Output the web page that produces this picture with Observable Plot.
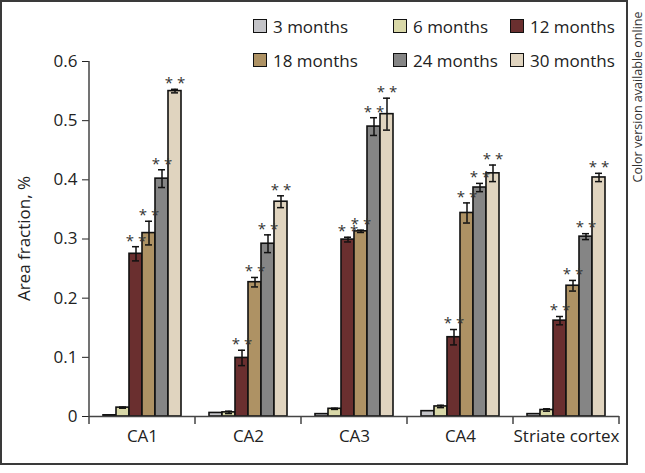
<!DOCTYPE html>
<html><head><meta charset="utf-8">
<script src="https://cdn.jsdelivr.net/npm/d3@7"></script>
<script src="https://cdn.jsdelivr.net/npm/@observablehq/plot@0.6"></script>
<style>
body{margin:0;background:#fff;font-family:"Open Sans",sans-serif;}
#wrap{position:relative;width:645px;height:473px;overflow:hidden;background:#fff;}
#border{position:absolute;left:0;top:0;width:624px;height:461px;border:2px solid #3a3a3a;}
#side{position:absolute;left:637px;top:97px;transform:translate(-50%,-50%) rotate(-90deg);white-space:nowrap;font-size:12.5px;color:#333;}
.item{position:absolute;display:flex;align-items:center;font-size:17px;color:#222;white-space:nowrap;height:24px;}
.sw{width:12px;height:12px;border:1.5px solid #111;margin-right:6px;box-sizing:content-box;}
#chart{position:absolute;left:0;top:0;}
</style></head>
<body>
<div id="wrap">
  <div id="chart"></div>
  <div id="border"></div>
  <div id="side">Color version available online</div>
  <div id="legend"></div>
</div>
<script>
const regions = ["CA1", "CA2", "CA3", "CA4", "Striate cortex"];
const ages = ["3 months", "6 months", "12 months", "18 months", "24 months", "30 months"];
const colors = ["#c4c4c8", "#d9d8a8", "#6a2f2f", "#ae9264", "#858585", "#e0d4bf"];
const yTicks = [0, 0.1, 0.2, 0.3, 0.4, 0.5, 0.6];

// mean area fraction per age, one value per region
const m3  = [0.002, 0.006, 0.004, 0.009, 0.004];
const m6  = [0.015, 0.007, 0.013, 0.017, 0.011];
const m12 = [0.275, 0.099, 0.299, 0.134, 0.162];
const m18 = [0.310, 0.227, 0.313, 0.344, 0.221];
const m24 = [0.402, 0.292, 0.490, 0.387, 0.304];
const m30 = [0.550, 0.363, 0.511, 0.411, 0.404];
// error (+/-) per age, one value per region
const e3  = [0, 0, 0, 0, 0];
const e6  = [0.001, 0.002, 0.001, 0.002, 0.002];
const e12 = [0.012, 0.013, 0.004, 0.013, 0.007];
const e18 = [0.020, 0.008, 0.002, 0.017, 0.009];
const e24 = [0.015, 0.015, 0.015, 0.007, 0.005];
const e30 = [0.003, 0.010, 0.027, 0.014, 0.007];
// significance marks per age
const stars = ["", "", "* *", "* *", "* *", "* *"];

const values = [m3, m6, m12, m18, m24, m30];
const errors = [e3, e6, e12, e18, e24, e30];

const data = [];
regions.forEach((r, i) => ages.forEach((a, j) => {
  data.push({region: r, age: a, value: values[j][i], err: errors[j][i], star: stars[j],
             hi: values[j][i] + errors[j][i], lo: values[j][i] - errors[j][i]});
}));
const errData = data.filter(d => d.err > 0);
const starData = data.filter(d => d.star);

const chart = Plot.plot({
  width: 645, height: 473,
  marginLeft: 89, marginRight: 26, marginTop: 61, marginBottom: 57,
  style: {fontFamily: '"Open Sans", sans-serif', fontSize: "17px", color: "#222", background: "transparent", overflow: "visible"},
  fx: {domain: regions, padding: 0, label: null, tickSize: 0, tickPadding: 13},
  x: {domain: ages, paddingInner: 0, paddingOuter: 0.79, axis: null},
  y: {domain: [0, 0.6], ticks: yTicks, tickFormat: d => d === 0 ? "0" : d.toFixed(1), tickSize: 7, tickPadding: 5, label: null},
  color: {domain: ages, range: colors},
  marks: [
    Plot.barY(data, {fx: "region", x: "age", y: "value", fill: "age", stroke: "#111", strokeWidth: 1.6}),
    Plot.ruleY([0], {stroke: "#444", strokeWidth: 1.5}),
    Plot.ruleX(errData, {fx: "region", x: "age", y1: "lo", y2: "hi", stroke: "#111", strokeWidth: 1.5}),
    Plot.tickY(errData, {fx: "region", x: "age", y: "hi", insetLeft: 3, insetRight: 3, stroke: "#111", strokeWidth: 1.5}),
    Plot.tickY(errData, {fx: "region", x: "age", y: "lo", insetLeft: 3, insetRight: 3, stroke: "#111", strokeWidth: 1.5}),
    Plot.text(starData, {fx: "region", x: "age", y: "hi", text: "star", dy: -6, fontSize: 15, fill: "#333"})
  ]
});
document.getElementById("chart").appendChild(chart);

// axis line, group boundary ticks and y label, from the plot's own scales
const fxs = chart.scale("fx"), ys = chart.scale("y");
const yScale = d3.scaleLinear(ys.domain, ys.range);
const bw = fxs.bandwidth;
const bounds = regions.map(r => fxs.apply(r)).concat([fxs.apply(regions[regions.length - 1]) + bw]);
const svg = d3.select(chart);
const g = svg.append("g").attr("stroke", "#444").attr("stroke-width", 1.5);
const y0 = yScale(0);
g.selectAll("line.b").data(bounds).join("line")
  .attr("x1", d => d).attr("x2", d => d).attr("y1", y0).attr("y2", y0 + 8);
g.append("line").attr("x1", bounds[0]).attr("x2", bounds[0]).attr("y1", yScale(0.6)).attr("y2", y0);
svg.append("text")
  .attr("transform", `translate(25,${(yScale(0) + yScale(0.6)) / 2}) rotate(-90)`)
  .attr("text-anchor", "middle").attr("dominant-baseline", "middle")
  .attr("fill", "#222").style("font-size", "17px")
  .text("Area fraction, %");

// legend: 2 rows x 3 columns
const legend = document.getElementById("legend");
const colX = [253, 393, 510], rowY = [14, 48];
ages.forEach((a, i) => {
  const it = document.createElement("div");
  it.className = "item";
  it.style.left = colX[i % 3] + "px";
  it.style.top = rowY[Math.floor(i / 3)] + "px";
  const sw = document.createElement("span");
  sw.className = "sw"; sw.style.background = colors[i];
  const t = document.createElement("span"); t.textContent = a;
  it.appendChild(sw); it.appendChild(t);
  legend.appendChild(it);
});
</script>
</body></html>
